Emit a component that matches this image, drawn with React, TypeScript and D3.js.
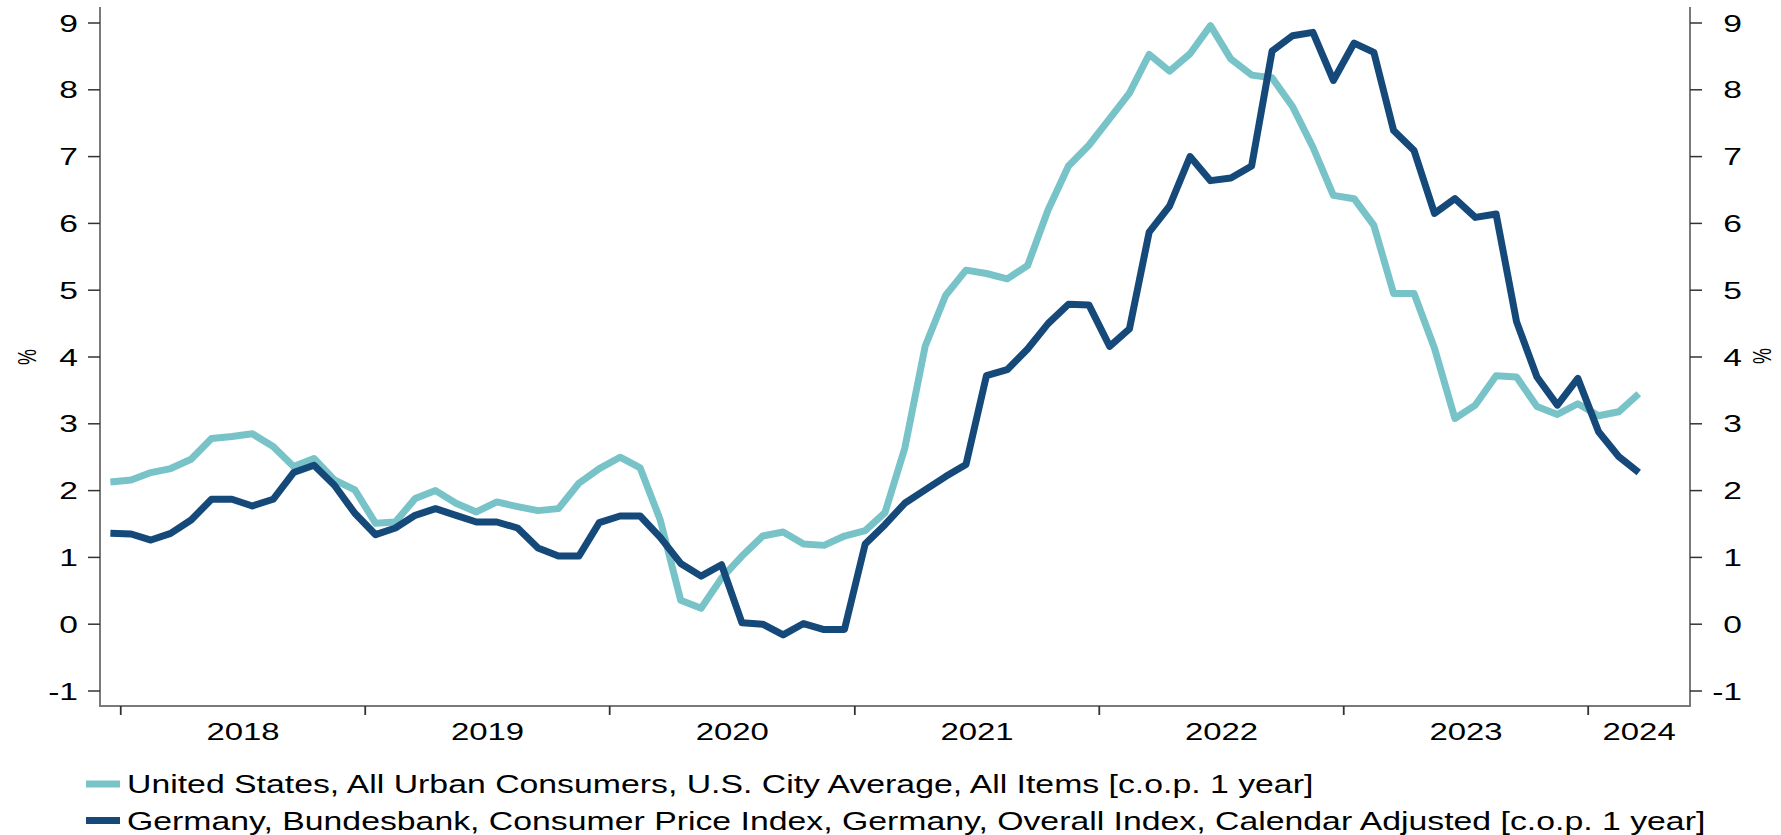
import React from "react";
import * as d3 from "d3";

// ---- Data (monthly, Dec 2017 .. Mar 2024) ----
const startMonth = new Date(Date.UTC(2017, 11, 1));
const endMonthExclusive = new Date(Date.UTC(2024, 3, 1));
const months: Date[] = d3.utcMonths(startMonth, endMonthExclusive);

const usCPI: number[] = [
  2.13, 2.16, 2.27, 2.33, 2.47, 2.78, 2.81, 2.85, 2.66, 2.36, 2.48, 2.16, 2.01,
  1.51, 1.53, 1.88, 2.0, 1.81, 1.68, 1.83, 1.76, 1.7, 1.73, 2.11, 2.33,
  2.5, 2.34, 1.56, 0.36, 0.24, 0.69, 1.02, 1.32, 1.38, 1.2, 1.18, 1.32,
  1.4, 1.67, 2.63, 4.16, 4.92, 5.3, 5.25, 5.17, 5.37, 6.2, 6.86, 7.17,
  7.57, 7.95, 8.53, 8.28, 8.54, 8.96, 8.46, 8.22, 8.18, 7.75, 7.14, 6.42,
  6.37, 5.97, 4.95, 4.95, 4.13, 3.08, 3.28, 3.72, 3.7, 3.26, 3.14, 3.3,
  3.12, 3.18, 3.45,
];

const deCPI: number[] = [
  1.36, 1.35, 1.26, 1.36, 1.56, 1.87, 1.87, 1.77, 1.87, 2.27, 2.38, 2.08, 1.66,
  1.34, 1.44, 1.63, 1.73, 1.63, 1.53, 1.53, 1.44, 1.14, 1.02, 1.02, 1.52,
  1.62, 1.62, 1.3, 0.91, 0.72, 0.89, 0.02, 0.0, -0.16, 0.01, -0.08, -0.08,
  1.2, 1.49, 1.81, 2.01, 2.21, 2.39, 3.72, 3.81, 4.12, 4.5, 4.79, 4.78,
  4.16, 4.42, 5.87, 6.26, 7.0, 6.64, 6.68, 6.86, 8.58, 8.81, 8.86, 8.14,
  8.7, 8.56, 7.39, 7.09, 6.15, 6.37, 6.09, 6.14, 4.53, 3.7, 3.28, 3.68,
  2.88, 2.51, 2.27,
];

const yTicks: number[] = [-1, 0, 1, 2, 3, 4, 5, 6, 7, 8, 9];
const yearLabels: number[] = [2018, 2019, 2020, 2021, 2022, 2023, 2024];
const seriesNames: string[] = [
  "United States, All Urban Consumers, U.S. City Average, All Items [c.o.p. 1 year]",
  "Germany, Bundesbank, Consumer Price Index, Germany, Overall Index, Calendar Adjusted [c.o.p. 1 year]",
];
const seriesColors: string[] = ["#78C3C8", "#14497A"];
const axisUnit = "%";

// ---- Layout ----
const W = 1781;
const H = 835;
const left = 100;
const right = 1690;
const plotTop = 7;
const plotBottom = 706;
const FONT = "'Liberation Sans', Arial, Helvetica, sans-serif";
const SX = 1.4; // horizontal stretch of text in the reference

const x = d3
  .scaleUtc()
  .domain([startMonth, new Date(Date.UTC(2024, 5, 1))])
  .range([left, right]);
const y = d3.scaleLinear().domain([-1, 9]).range([691, 23]);

const midMonth = (m: Date) => {
  const next = d3.utcMonth.offset(m, 1);
  return new Date((m.getTime() + next.getTime()) / 2);
};

const line = d3
  .line<number>()
  .x((_, i) => x(midMonth(months[i])))
  .y((v) => y(v))
  .curve(d3.curveLinear);

const T = ({
  x: tx,
  y: ty,
  anchor,
  size,
  sx = SX,
  rotate = 0,
  baseline,
  children,
}: any) => (
  <text
    transform={`translate(${tx},${ty}) scale(${sx},1)${rotate ? ` rotate(${rotate})` : ""}`}
    textAnchor={anchor}
    dominantBaseline={baseline}
    fontFamily={FONT}
    fontSize={size}
    fill="#000"
  >
    {children}
  </text>
);

export default function App() {
  const yearStarts = yearLabels.map((yr) => new Date(Date.UTC(yr, 0, 1)));
  const domainEnd = x.domain()[1];
  return (
    <svg
      width={W}
      height={H}
      style={{ position: "absolute", left: 0, top: 0, background: "#fff" }}
    >
      <rect x={0} y={0} width={W} height={H} fill="#fff" />
      {/* series */}
      {[usCPI, deCPI].map((s, k) => (
        <path
          key={k}
          d={line(s) || ""}
          fill="none"
          stroke={seriesColors[k]}
          strokeWidth={7}
          strokeLinejoin="round"
          strokeLinecap="butt"
        />
      ))}
      {/* axes */}
      <line x1={left} x2={left} y1={plotTop} y2={plotBottom} stroke="#7a7a7a" strokeWidth={2} />
      <line x1={right} x2={right} y1={plotTop} y2={plotBottom} stroke="#7a7a7a" strokeWidth={2} />
      <line x1={left - 1} x2={right + 1} y1={plotBottom} y2={plotBottom} stroke="#7a7a7a" strokeWidth={2} />
      {yTicks.map((t) => (
        <g key={t}>
          <line x1={left - 12} x2={left} y1={y(t)} y2={y(t)} stroke="#333" strokeWidth={1.5} />
          <line x1={right} x2={right + 12} y1={y(t)} y2={y(t)} stroke="#333" strokeWidth={1.5} />
          <T x={78} y={y(t) + 8.6} anchor="end" size={24}>
            {t}
          </T>
          <T x={1742} y={y(t) + 8.6} anchor="end" size={24}>
            {t}
          </T>
        </g>
      ))}
      {yearStarts.map((d, i) => {
        const next = i < yearStarts.length - 1 ? yearStarts[i + 1] : domainEnd;
        const cx = (x(d) + x(next)) / 2;
        return (
          <g key={i}>
            <line x1={x(d)} x2={x(d)} y1={plotBottom} y2={plotBottom + 9} stroke="#333" strokeWidth={1.8} />
            <T x={cx} y={740} anchor="middle" size={23.5}>
              {yearLabels[i]}
            </T>
          </g>
        );
      })}
      <T x={27} y={357} anchor="middle" size={18} rotate={-90} baseline="central">
        {axisUnit}
      </T>
      <T x={1762} y={356} anchor="middle" size={18} rotate={-90} baseline="central">
        {axisUnit}
      </T>
      {/* legend */}
      {seriesNames.map((n, k) => (
        <g key={k}>
          <line
            x1={86}
            x2={120}
            y1={784 + k * 36.5}
            y2={784 + k * 36.5}
            stroke={seriesColors[k]}
            strokeWidth={7}
          />
          <T x={127} y={793 + k * 37} anchor="start" size={25} sx={1.352}>
            {n}
          </T>
        </g>
      ))}
    </svg>
  );
}
